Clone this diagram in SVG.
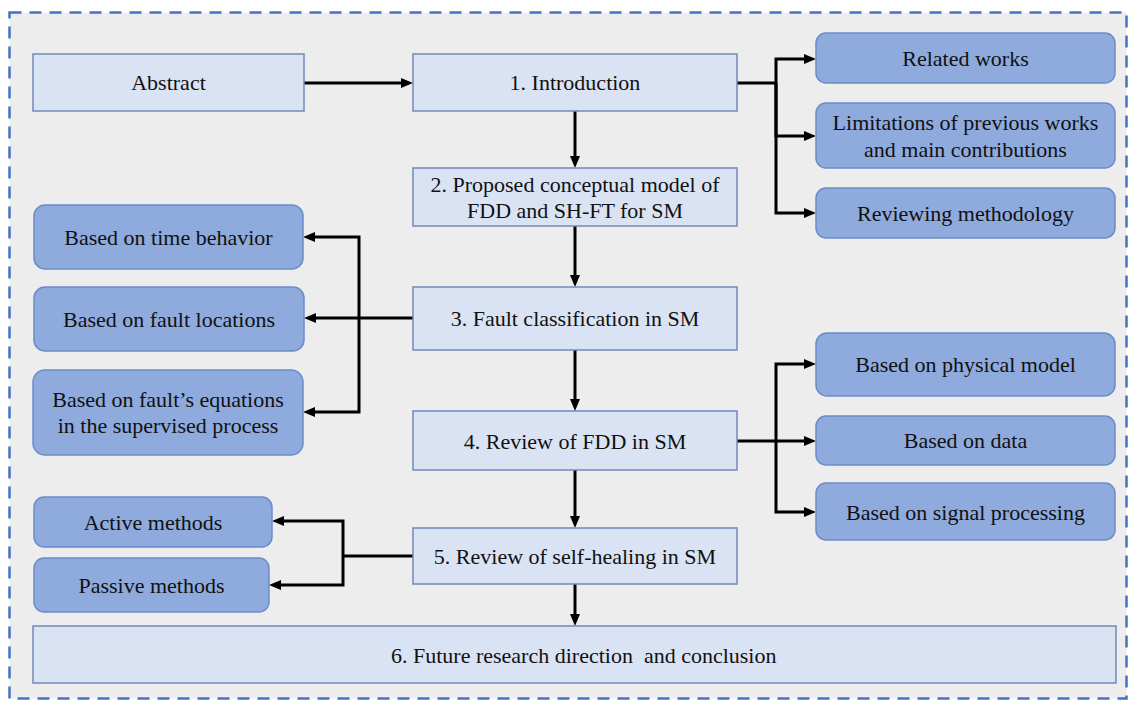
<svg xmlns="http://www.w3.org/2000/svg" width="1131" height="702" viewBox="0 0 1131 702">
<defs>
<style>
.frame{fill:#EDEDED;stroke:#4472C4;stroke-width:2.5;stroke-dasharray:12 8}
.main{fill:#DAE3F3;stroke:#7289BA;stroke-width:1.5}
.sub{fill:#8FAADC;stroke:#6B8CC9;stroke-width:1.5}
text{font-family:'Liberation Serif','Times New Roman','DejaVu Serif',serif;font-size:22px;fill:#111;text-anchor:middle}
.c{fill:none;stroke:#000;stroke-width:3;stroke-linejoin:miter}
.a{marker-end:url(#ah)}
</style>
<marker id="ah" viewBox="0 0 12 10" markerWidth="12" markerHeight="10" refX="5" refY="5" orient="auto" markerUnits="userSpaceOnUse">
<path d="M0,0 L12,5 L0,10 z" fill="#000"/>
</marker>
</defs>
<rect x="0" y="0" width="1131" height="702" fill="#FFFFFF"/>
<rect class="frame" x="9.5" y="12.5" width="1117" height="686"/>

<g id="connectors">
<path class="c a" d="M304,83 H406"/>
<path class="c" d="M737,83 H776"/>
<path class="c a" d="M776,83 V59 H809"/>
<path class="c a" d="M776,83 V136 H809"/>
<path class="c a" d="M776,83 V213 H809"/>
<path class="c a" d="M575,111 V161"/>
<path class="c a" d="M575,226 V280"/>
<path class="c a" d="M575,350 V404"/>
<path class="c a" d="M575,470 V521"/>
<path class="c a" d="M575,584 V619"/>
<path class="c a" d="M413,318 H311"/>
<path class="c a" d="M359,318 V237 H310"/>
<path class="c a" d="M359,318 V412 H310"/>
<path class="c" d="M737,441 H776"/>
<path class="c a" d="M776,441 V364 H809"/>
<path class="c a" d="M776,441 H809"/>
<path class="c a" d="M776,441 V512 H809"/>
<path class="c" d="M413,556 H343"/>
<path class="c a" d="M343,556 V521 H279"/>
<path class="c a" d="M343,556 V585 H276"/>
</g>

<g id="abstract">
<rect class="main" x="33" y="54" width="271" height="57"/>
<text x="168.5" y="90">Abstract</text>
</g>
<g id="introduction">
<rect class="main" x="413" y="54" width="324" height="57"/>
<text x="575" y="90">1. Introduction</text>
</g>
<g id="conceptual-model">
<rect class="main" x="413" y="168" width="324" height="58"/>
<text x="575" y="192">2. Proposed conceptual model of</text>
<text x="575" y="218">FDD and SH-FT for SM</text>
</g>
<g id="fault-classification">
<rect class="main" x="413" y="287" width="324" height="63"/>
<text x="575" y="326">3. Fault classification in SM</text>
</g>
<g id="review-fdd">
<rect class="main" x="413" y="411" width="324" height="59"/>
<text x="575" y="449">4. Review of FDD in SM</text>
</g>
<g id="review-self-healing">
<rect class="main" x="413" y="528" width="324" height="56"/>
<text x="575" y="564">5. Review of self-healing in SM</text>
</g>
<g id="future">
<rect class="main" x="33" y="626" width="1083" height="57"/>
<text x="391" y="663" style="text-anchor:start;white-space:pre">6. Future research direction  and conclusion</text>
</g>

<g id="related-works">
<rect class="sub" x="816" y="33" width="299" height="50" rx="10"/>
<text x="965.5" y="66">Related works</text>
</g>
<g id="limitations">
<rect class="sub" x="816" y="103" width="299" height="65" rx="10"/>
<text x="965.5" y="130">Limitations of previous works</text>
<text x="965.5" y="157">and main contributions</text>
</g>
<g id="reviewing-methodology">
<rect class="sub" x="816" y="188" width="299" height="50" rx="10"/>
<text x="965.5" y="221">Reviewing methodology</text>
</g>

<g id="time-behavior">
<rect class="sub" x="34" y="205" width="269" height="64" rx="11"/>
<text x="168.5" y="245">Based on time behavior</text>
</g>
<g id="fault-locations">
<rect class="sub" x="34" y="287" width="270" height="64" rx="11"/>
<text x="169" y="327">Based on fault locations</text>
</g>
<g id="fault-equations">
<rect class="sub" x="33" y="370" width="270" height="85" rx="12"/>
<text x="168" y="407">Based on fault’s equations</text>
<text x="168" y="433">in the supervised process</text>
</g>

<g id="physical-model">
<rect class="sub" x="816" y="333" width="299" height="63" rx="11"/>
<text x="965.5" y="372">Based on physical model</text>
</g>
<g id="data">
<rect class="sub" x="816" y="416" width="299" height="49" rx="10"/>
<text x="965.5" y="448">Based on data</text>
</g>
<g id="signal-processing">
<rect class="sub" x="816" y="483" width="299" height="57" rx="10"/>
<text x="965.5" y="520">Based on signal processing</text>
</g>

<g id="active">
<rect class="sub" x="34" y="497" width="238" height="50" rx="10"/>
<text x="153" y="530">Active methods</text>
</g>
<g id="passive">
<rect class="sub" x="34" y="558" width="235" height="54" rx="10"/>
<text x="151.5" y="593">Passive methods</text>
</g>
</svg>
